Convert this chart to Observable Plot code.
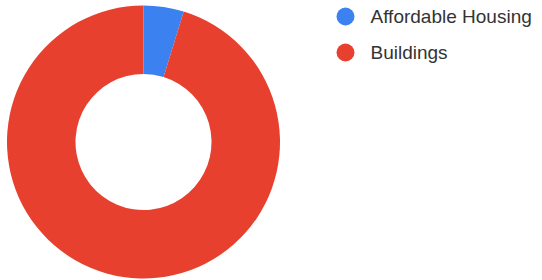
<!DOCTYPE html>
<html>
<head>
<meta charset="utf-8">
<script src="https://cdn.jsdelivr.net/npm/d3@7"></script>
<script src="https://cdn.jsdelivr.net/npm/@observablehq/plot@0.6"></script>
<style>
  html, body { margin: 0; padding: 0; background: #fff; }
  #chart svg { display: block; }
</style>
</head>
<body>
<div id="chart"></div>
<script>
const categories = ["Affordable Housing", "Buildings"];
const values = [1, 20];
const colors = ["#3b82f0", "#e8402f"];

const data = categories.map((c, i) => ({category: c, value: values[i]}));

function donut(index, scales, vals, dimensions) {
  const pie = d3.pie().sort(null).value(d => d.value)(data);
  const arc = d3.arc().innerRadius(68).outerRadius(136.5);
  const g = d3.create("svg:g").attr("transform", "translate(143.5,142)");
  g.selectAll("path").data(pie).join("path")
    .attr("d", arc)
    .attr("fill", d => scales.color(d.data.category));
  return g.node();
}

const chart = Plot.plot({
  width: 542,
  height: 280,
  margin: 0,
  style: {fontFamily: "'Liberation Sans', Arial, sans-serif", background: "#fff"},
  x: {type: "identity", axis: null},
  y: {type: "point", domain: categories, range: [15.7, 52.5], padding: 0, axis: null},
  color: {domain: categories, range: colors},
  marks: [
    donut,
    Plot.dot(categories, {x: () => 345, y: d => d, fill: d => d, r: 9, stroke: null}),
    Plot.text(categories, {x: () => 370, y: d => d, text: d => d, textAnchor: "start", fontSize: 19, fill: "#333"})
  ]
});
document.getElementById("chart").appendChild(chart);
</script>
</body>
</html>
